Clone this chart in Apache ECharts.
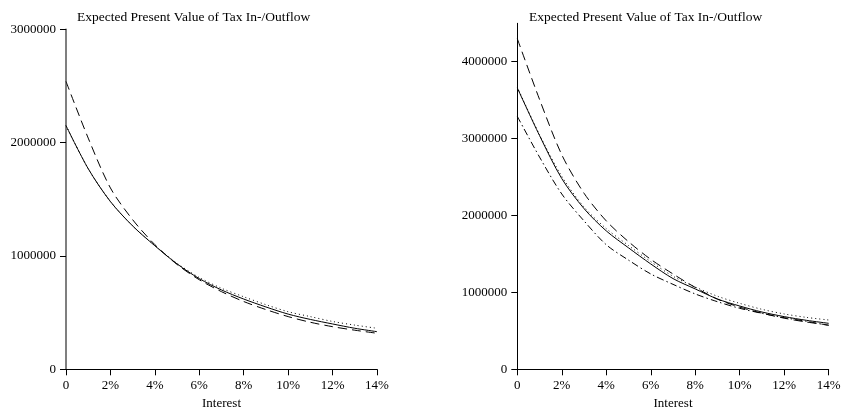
<!DOCTYPE html>
<html>
<head>
<meta charset="utf-8">
<script src="https://cdn.jsdelivr.net/npm/echarts@6/dist/echarts.min.js"></script>
<style>
  html, body { margin: 0; padding: 0; background: #fff; }
  #chart { width: 843px; height: 412px; }
</style>
</head>
<body>
<div id="chart"></div>
<script>
// interest rate in percent
const interest = [0, 1, 2, 3, 4, 5, 6, 7, 8, 9, 10, 11, 12, 13, 14];

// left panel
const leftSolid  = [2150000, 1770000, 1480000, 1265000, 1090000, 930000, 800000, 700000, 620000, 550000, 487000, 440000, 400000, 362000, 332000];
const leftDashed = [2540000, 2040000, 1600000, 1320000, 1100000, 925000, 790000, 685000, 598000, 527000, 465000, 415000, 376000, 345000, 318000];
const leftDotted = [2150000, 1770000, 1480000, 1265000, 1092000, 935000, 810000, 715000, 640000, 570000, 508000, 465000, 422000, 390000, 362000];

// right panel
const rightSolid   = [3660000, 3040000, 2480000, 2090000, 1800000, 1580000, 1370000, 1180000, 1045000, 914000, 823000, 745000, 685000, 637000, 598000];
const rightDashed  = [4300000, 3510000, 2790000, 2290000, 1930000, 1660000, 1430000, 1240000, 1065000, 912000, 808000, 730000, 665000, 615000, 576000];
const rightDotted  = [3670000, 3050000, 2510000, 2110000, 1830000, 1610000, 1400000, 1210000, 1070000, 950000, 858000, 780000, 720000, 675000, 641000];
const rightDashDot = [3290000, 2760000, 2280000, 1930000, 1620000, 1420000, 1240000, 1105000, 980000, 879000, 793000, 728000, 671000, 624000, 570000];

const leftYTicks = [0, 1000000, 2000000, 3000000];
const rightYTicks = [0, 1000000, 2000000, 3000000, 4000000];
const titleText = 'Expected Present Value of Tax In-/Outflow';

const font = 'Liberation Serif';
const pair = (ys) => interest.map((x, i) => [x, ys[i]]);

function xAxisCfg(gridIndex) {
    return {
        type: 'value',
        gridIndex: gridIndex,
        min: 0, max: 14, interval: 2,
        name: 'Interest',
        nameLocation: 'middle',
        nameGap: 28,
        nameTextStyle: { fontFamily: font, fontSize: 13, color: '#000' },
        axisLine: { lineStyle: { color: '#000', width: 1 } },
        axisTick: { length: 6, lineStyle: { color: '#000' } },
        axisLabel: {
            fontFamily: font, fontSize: 13, color: '#000', margin: 10,
            formatter: v => v === 0 ? '0' : v + '%'
        },
        splitLine: { show: false }
    };
}

function yAxisCfg(gridIndex, max, ticks, lineColor, lineWidth) {
    return {
        type: 'value',
        gridIndex: gridIndex,
        min: 0, max: max, interval: 1000000,
        axisLine: { show: true, lineStyle: { color: lineColor, width: lineWidth } },
        axisTick: { show: true, length: 6, customValues: ticks, lineStyle: { color: '#000' } },
        axisLabel: {
            fontFamily: font, fontSize: 13, color: '#000', margin: 10, customValues: ticks,
            formatter: v => String(v)
        },
        splitLine: { show: false }
    };
}

function line(name, data, xi, dash) {
    return {
        name: name,
        type: 'line',
        xAxisIndex: xi,
        yAxisIndex: xi,
        data: data,
        symbol: 'none',
        smooth: 0.3,
        lineStyle: { color: '#000', width: 1, type: dash }
    };
}

const chart = echarts.init(document.getElementById('chart'), null, { renderer: 'canvas' });
chart.setOption({
    animation: false,
    backgroundColor: '#fff',
    title: [
        { text: titleText, left: 72, top: 5, textStyle: { fontFamily: font, fontSize: 13.5, fontWeight: 'normal', color: '#000' } },
        { text: titleText, left: 524, top: 5, textStyle: { fontFamily: font, fontSize: 13.5, fontWeight: 'normal', color: '#000' } }
    ],
    grid: [
        { left: 66, top: 29.3, width: 311, height: 340, outerBoundsMode: 'none', containLabel: false },
        { left: 517.3, top: 23.3, width: 311.4, height: 346, outerBoundsMode: 'none', containLabel: false }
    ],
    xAxis: [xAxisCfg(0), xAxisCfg(1)],
    yAxis: [
        yAxisCfg(0, 3000000, leftYTicks, '#555', 1.5),
        yAxisCfg(1, 4500000, rightYTicks, '#000', 1)
    ],
    series: [
        line('Left dotted', pair(leftDotted), 0, [1, 3]),
        line('Left dashed', pair(leftDashed), 0, [9, 5]),
        line('Left solid', pair(leftSolid), 0, 'solid'),
        line('Right dotted', pair(rightDotted), 1, [1, 3]),
        line('Right dashed', pair(rightDashed), 1, [9, 5]),
        line('Right dash-dot', pair(rightDashDot), 1, [7, 3, 1.5, 3]),
        line('Right solid', pair(rightSolid), 1, 'solid')
    ]
});
</script>
</body>
</html>
